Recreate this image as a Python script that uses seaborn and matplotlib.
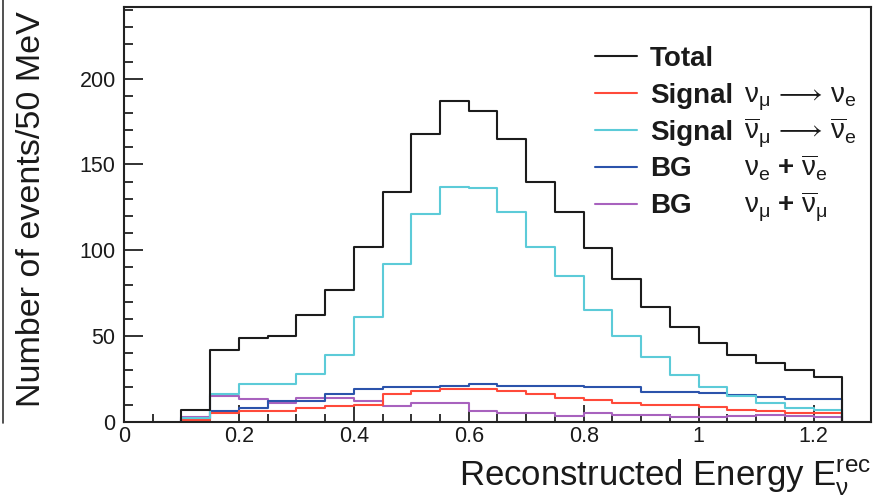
import matplotlib
matplotlib.use("Agg")
import numpy as np
import pandas as pd
import matplotlib.pyplot as plt
from matplotlib.ticker import MultipleLocator, FixedLocator, FixedFormatter
from matplotlib.lines import Line2D
import seaborn as sns

# ---------------- data ----------------
bin_edges = [0.10, 0.15, 0.20, 0.25, 0.30, 0.35, 0.40, 0.45, 0.50, 0.55, 0.60, 0.65,
             0.70, 0.75, 0.80, 0.85, 0.90, 0.95, 1.00, 1.05, 1.10, 1.15, 1.20, 1.25]

total = [7, 42, 49, 50, 62, 77, 102, 134, 168, 187, 181, 165,
         140, 122, 101, 83, 67, 55, 46, 39, 34, 30, 26]
signal_nue = [1, 5, 6, 6, 8, 9, 10, 16, 18, 19, 19, 18,
              16, 14, 12.5, 11, 9.5, 9.5, 8.5, 7, 6, 5.3, 5]
signal_nuebar = [2, 16, 22, 22, 28, 39, 61, 92, 121, 137, 136, 122,
                 102, 85, 65, 50, 38, 27, 20, 15, 11, 8, 7]
bg_nue = [1.4, 6, 8, 12, 12, 16, 19, 20, 20, 21, 22, 21,
          21, 21, 20, 20, 17.5, 17.5, 17, 15.5, 14.5, 13, 13]
bg_numu = [2.5, 15, 13, 11, 14, 14, 12, 9, 11, 11, 6, 5,
           5, 3.5, 5, 4, 4, 3, 3, 3.5, 4, 3.5, 3]

legend_words = ["Total", "Signal", "Signal", "BG", "BG"]
legend_exprs = ["",
                r"$\nu_{\mu}\,\longrightarrow\,\nu_{e}$",
                r"$\overline{\nu}_{\mu}\,\longrightarrow\,\overline{\nu}_{e}$",
                r"$\nu_{e}\ \mathbf{+}\ \overline{\nu}_{e}$",
                r"$\nu_{\mu}\ \mathbf{+}\ \overline{\nu}_{\mu}$"]

xticks = [0, 0.2, 0.4, 0.6, 0.8, 1.0, 1.2]
xtick_labels = ["0", "0.2", "0.4", "0.6", "0.8", "1", "1.2"]
yticks = [0, 50, 100, 150, 200]
ytick_labels = ["0", "50", "100", "150", "200"]

xlabel = r"Reconstructed Energy $E_{\nu}^{rec}$"
ylabel = "Number of events/50 MeV"

# ---------------- style ----------------
sns.set_theme(style="white")
plt.rcParams["font.family"] = ["Liberation Sans", "DejaVu Sans"]
plt.rcParams["mathtext.default"] = "regular"
plt.rcParams["mathtext.fontset"] = "custom"
plt.rcParams["mathtext.rm"] = "Liberation Sans"
plt.rcParams["mathtext.bf"] = "Liberation Sans:bold"
plt.rcParams["mathtext.it"] = "Liberation Sans:italic"

W, H = 882, 503
fig = plt.figure(figsize=(W / 100, H / 100), dpi=100)
ax_left, ax_right, ax_top, ax_bottom = 124, 871, 6.7, 421.7
ax = fig.add_axes([ax_left / W, 1 - ax_bottom / H,
                   (ax_right - ax_left) / W, (ax_bottom - ax_top) / H])

series = [
    ("BG numu", bg_numu, "#a862be"),
    ("BG nue", bg_nue, "#2b53ab"),
    ("Signal nue", signal_nue, "#ff4a3a"),
    ("Signal nuebar", signal_nuebar, "#5ccbd8"),
    ("Total", total, "#1c1c1c"),
]

handles = {}
for name, vals, col in series:
    xs = [bin_edges[0]] + list(bin_edges) + [bin_edges[-1]]
    ys = [0] + list(vals) + [vals[-1], 0]
    df = pd.DataFrame({"E": xs, "N": ys})
    sns.lineplot(data=df, x="E", y="N", estimator=None, sort=False,
                 drawstyle="steps-post", color=col, linewidth=1.5, ax=ax)
    handles[name] = ax.get_lines()[-1]

ax.set_xlim(0, 1.3)
ax.set_ylim(0, 242)

ax.xaxis.set_major_locator(FixedLocator(xticks))
ax.xaxis.set_major_formatter(FixedFormatter(xtick_labels))
ax.yaxis.set_major_locator(FixedLocator(yticks))
ax.yaxis.set_major_formatter(FixedFormatter(ytick_labels))
ax.xaxis.set_minor_locator(MultipleLocator(0.05))
ax.yaxis.set_minor_locator(MultipleLocator(10))

ax.tick_params(axis="both", which="both", direction="in", colors="#222222",
               width=1.3, labelsize=15.5, top=False, right=False,
               bottom=True, left=True)
ax.tick_params(axis="y", which="major", length=13.5, pad=6)
ax.tick_params(axis="y", which="minor", length=6.5)
ax.tick_params(axis="x", which="major", length=12, pad=3)
ax.tick_params(axis="x", which="minor", length=6)
for lab in ax.get_xticklabels() + ax.get_yticklabels():
    lab.set_color("#1a1a1a")

for sp in ax.spines.values():
    sp.set_visible(True)
    sp.set_color("#222222")
    sp.set_linewidth(1.5)

ax.set_xlabel(xlabel, fontsize=25, ha="right", va="baseline", color="#1a1a1a")
ax.xaxis.set_label_coords(1.0, (ax_bottom - 487) / (ax_bottom - ax_top))
ax.set_ylabel(ylabel, fontsize=24.5, ha="center", va="center", color="#1a1a1a")
ax.yaxis.set_label_coords((32 - ax_left) / (ax_right - ax_left),
                          (ax_bottom - 209) / (ax_bottom - ax_top))

# ---------------- legend ----------------
leg_handles = [handles["Total"], handles["Signal nue"], handles["Signal nuebar"],
               handles["BG nue"], handles["BG numu"]]
leg = ax.legend(leg_handles, legend_words, loc="upper left",
                bbox_to_anchor=(595 / W, 1 - 46 / H), bbox_transform=fig.transFigure,
                frameon=False, borderpad=0, borderaxespad=0,
                handlelength=1.5, handletextpad=0.47, labelspacing=0.39,
                prop={"family": "Liberation Sans", "weight": "bold", "size": 20})
for t in leg.get_texts():
    t.set_color("#1a1a1a")

fig.canvas.draw()
for t, expr in zip(leg.get_texts(), legend_exprs):
    if not expr:
        continue
    xb, yb = t.get_transform().transform(t.get_position())
    fig.text(744 / W, yb / H, expr, fontsize=20, ha="left", va="baseline",
             color="#1a1a1a")

# frame edge of a neighbouring panel at the far left
fig.add_artist(Line2D([2.5 / W, 2.5 / W], [1.0, 1 - 423 / H],
                      color="#333333", linewidth=1.2))

fig.savefig("out.png", dpi=100)
